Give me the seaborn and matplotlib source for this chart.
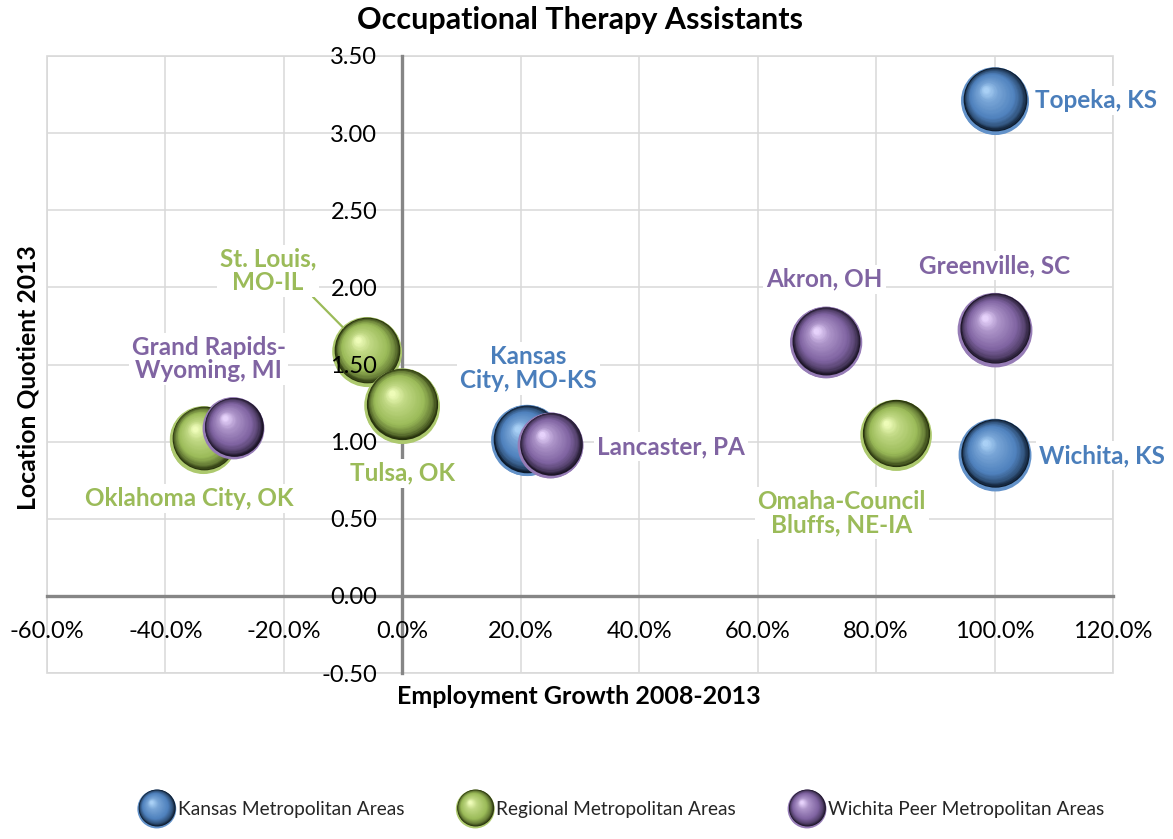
import numpy as np
import pandas as pd
import matplotlib
matplotlib.use("Agg")
import matplotlib.pyplot as plt
import seaborn as sns
from matplotlib.transforms import ScaledTranslation
from matplotlib.legend_handler import HandlerBase
from matplotlib.patches import Circle, Rectangle
from matplotlib.lines import Line2D
from matplotlib.colors import to_rgb
from matplotlib.ticker import FuncFormatter, MultipleLocator

# ---------------- data ----------------
groups = ["Kansas Metropolitan Areas", "Regional Metropolitan Areas",
          "Wichita Peer Metropolitan Areas"]

kansas_names = ["Topeka, KS", "Wichita, KS", "Kansas\nCity, MO-KS"]
kansas_growth = [1.00, 1.00, 0.21]
kansas_lq = [3.21, 0.915, 1.008]
kansas_size = [80, 92, 90]

regional_names = ["St. Louis,\nMO-IL", "Tulsa, OK", "Oklahoma City, OK",
                  "Omaha-Council\nBluffs, NE-IA"]
regional_growth = [-0.06, -0.001, -0.336, 0.833]
regional_lq = [1.584, 1.233, 1.013, 1.042]
regional_size = [85, 100, 80, 89]

peer_names = ["Grand Rapids-\nWyoming, MI", "Lancaster, PA", "Akron, OH",
              "Greenville, SC"]
peer_growth = [-0.286, 0.25, 0.715, 1.00]
peer_lq = [1.088, 0.976, 1.643, 1.725]
peer_size = [68, 77, 91, 97]

x_ticks_range = (-0.6, 1.2, 0.2)
y_ticks_range = (-0.5, 3.5, 0.5)

# ---------------- styling ----------------
palette = {
    groups[0]: dict(dark="#0c1a2b", mid="#4f81bd", light="#a9d0f5", label="#4a7ebb"),
    groups[1]: dict(dark="#28330d", mid="#9bbb59", light="#eefcb8", label="#9bbb59"),
    groups[2]: dict(dark="#1e1629", mid="#8064a2", light="#e6d2fb", label="#8064a2"),
}

# label offsets in points (dx, dy) and horizontal alignment
label_layout = {
    "Topeka, KS": (28.8, 0.0, "left"),
    "Wichita, KS": (32.0, -0.5, "left"),
    "Kansas\nCity, MO-KS": (1.4, 51.8, "center"),
    "St. Louis,\nMO-IL": (-71.3, 58.1, "center"),
    "Tulsa, OK": (0.4, -48.6, "center"),
    "Oklahoma City, OK": (-10.1, -42.2, "center"),
    "Omaha-Council\nBluffs, NE-IA": (-38.9, -56.2, "center"),
    "Grand Rapids-\nWyoming, MI": (-17.6, 49.7, "center"),
    "Lancaster, PA": (33.8, -0.9, "left"),
    "Akron, OH": (-0.9, 45.4, "center"),
    "Greenville, SC": (0.2, 46.1, "center"),
}

SMAX = 2916.0  # marker area (pt^2) for size value 100

df = pd.DataFrame({
    "name": kansas_names + regional_names + peer_names,
    "growth": kansas_growth + regional_growth + peer_growth,
    "lq": kansas_lq + regional_lq + peer_lq,
    "size": kansas_size + regional_size + peer_size,
    "group": [groups[0]] * len(kansas_names) + [groups[1]] * len(regional_names)
             + [groups[2]] * len(peer_names),
})

sns.set_theme(style="white")
plt.rcParams["font.family"] = ["Lato", "DejaVu Sans"]
plt.rcParams["axes.unicode_minus"] = False

W, H = 1173, 839
fig = plt.figure(figsize=(W / 100, H / 100), dpi=100)
ax = fig.add_axes([47 / W, 1 - 673 / H, (1113 - 47) / W, (673 - 56) / H])


def mix(c1, c2, t):
    a, b = np.array(to_rgb(c1)), np.array(to_rgb(c2))
    return tuple(a + (b - a) * t)


def shade(group, t):
    p = palette[group]
    stops = [(0.0, p["dark"]), (0.12, mix(p["dark"], p["mid"], 0.55)),
             (0.32, p["mid"]), (0.75, mix(p["mid"], p["light"], 0.45)),
             (1.0, p["light"])]
    for (t0, c0), (t1, c1) in zip(stops[:-1], stops[1:]):
        if t <= t1:
            return mix(c0, c1, (t - t0) / (t1 - t0))
    return to_rgb(p["light"])


N_LAYERS = 32


def layers():
    out = []
    for k in range(N_LAYERS):
        t = k / (N_LAYERS - 1)
        out.append((t, 0.95 - 0.87 * t, 0.02 - 0.28 * t, 0.05 + 0.28 * t))
    return out


# base bubbles through seaborn (light bottom rim colour)
rim_pal = {g: mix(palette[g]["mid"], palette[g]["light"], 0.22) for g in groups}
sns.scatterplot(data=df, x="growth", y="lq", hue="group", size="size",
                sizes=(0, SMAX), size_norm=(0, 100), palette=rim_pal,
                hue_order=groups, legend=False, linewidth=0, ax=ax, zorder=3)

# 3D shading layers
for i, row in df.iterrows():
    R = np.sqrt(SMAX * row["size"] / 100) / 2.0
    z0 = 4 + i
    ax.scatter([row["growth"]], [row["lq"]], s=(2 * R) ** 2,
               color=rim_pal[row["group"]], linewidths=0, zorder=z0)
    for (t, f, ox, oy) in layers():
        tr = ax.transData + ScaledTranslation(ox * R / 72, oy * R / 72,
                                              fig.dpi_scale_trans)
        ax.scatter([row["growth"]], [row["lq"]], s=(2 * f * R) ** 2,
                   color=shade(row["group"], t), linewidths=0,
                   transform=tr, zorder=z0 + 0.01 + t * 0.5)

# data labels
for i, row in df.iterrows():
    dx, dy, ha = label_layout[row["name"]]
    col = palette[row["group"]]["label"]
    kw = {}
    if row["name"].startswith("St. Louis"):
        R = np.sqrt(SMAX * row["size"] / 100) / 2.0
        kw["arrowprops"] = dict(arrowstyle="-", color=col, lw=1.6,
                                shrinkA=0, shrinkB=R * 0.98,
                                relpos=(0.93, 0.02))
    ax.annotate(row["name"], xy=(row["growth"], row["lq"]),
                xytext=(dx, dy), textcoords="offset points",
                ha=ha, va="center", multialignment="center",
                fontsize=17.5, fontweight="bold", color=col, linespacing=1.02,
                bbox=dict(boxstyle="square,pad=0.12", fc="white", ec="none"),
                zorder=40, **kw)

# axes limits / ticks
ax.set_xlim(x_ticks_range[0], x_ticks_range[1])
ax.set_ylim(y_ticks_range[0], y_ticks_range[1])
ax.xaxis.set_major_locator(MultipleLocator(x_ticks_range[2]))
ax.yaxis.set_major_locator(MultipleLocator(y_ticks_range[2]))
ax.xaxis.set_major_formatter(FuncFormatter(lambda v, p: f"{v * 100:.1f}%"))
ax.yaxis.set_major_formatter(FuncFormatter(lambda v, p: f"{v:.2f}"))
ax.grid(False)

for xv in ax.get_xticks():
    if x_ticks_range[0] - 1e-9 <= xv <= x_ticks_range[1] + 1e-9:
        ax.axvline(xv, color="#d9d9d9", lw=1.1, zorder=0.5)
for yv in ax.get_yticks():
    if y_ticks_range[0] - 1e-9 <= yv <= y_ticks_range[1] + 1e-9:
        ax.axhline(yv, color="#d9d9d9", lw=1.1, zorder=0.5)
ax.add_patch(Rectangle((0, 0), 1, 1, transform=ax.transAxes, fill=False,
                       ec="#d9d9d9", lw=1.2, zorder=0.6, clip_on=False))

for side in ("top", "right"):
    ax.spines[side].set_visible(False)
ax.spines["left"].set_position(("data", 0))
ax.spines["bottom"].set_position(("data", 0))
for side in ("left", "bottom"):
    ax.spines[side].set_color("#868686")
    ax.spines[side].set_linewidth(2.4)
    ax.spines[side].set_zorder(1.5)

ax.tick_params(axis="both", which="major", direction="out", length=6,
               width=2.0, color="#868686", labelsize=17, labelcolor="black")
ax.tick_params(axis="x", pad=12)
ax.tick_params(axis="y", pad=12)
ax.xaxis.set_zorder(30)
ax.yaxis.set_zorder(30)
ax.set_xlabel("")
ax.set_ylabel("")

# titles
fig.text(580 / W, 1 - 20 / H, "Occupational Therapy Assistants", ha="center",
         va="center", fontsize=22, fontweight="bold", color="black")
fig.text(579 / W, 1 - 697 / H, "Employment Growth 2008-2013", ha="center",
         va="center", fontsize=18, fontweight="bold", color="black")
fig.text(28 / W, 1 - 378 / H, "Location Quotient 2013", ha="center",
         va="center", rotation=90, fontsize=17.8, fontweight="bold",
         color="black")


# legend with shaded spheres
class SphereHandler(HandlerBase):
    def __init__(self, group, R=14.0):
        super().__init__()
        self.group = group
        self.R = R

    def create_artists(self, legend, orig_handle, xdescent, ydescent,
                       width, height, fontsize, trans):
        cx = width / 2 - xdescent
        cy = height / 2 - ydescent
        R = self.R
        arts = [Circle((cx, cy), R, fc=rim_pal[self.group], ec="none",
                       transform=trans)]
        for (t, f, ox, oy) in layers():
            arts.append(Circle((cx + ox * R, cy + oy * R), f * R,
                               fc=shade(self.group, t), ec="none",
                               transform=trans))
        return arts


handles = [Line2D([], [], color=palette[g]["mid"], label=g) for g in groups]
fig.legend(handles=handles, labels=groups, loc="center",
           bbox_to_anchor=(621 / W, 1 - 809 / H), ncol=3, frameon=False,
           fontsize=13.8, handlelength=2.0, handleheight=1.6,
           handletextpad=0.1, columnspacing=2.7,
           handler_map={h: SphereHandler(g) for h, g in zip(handles, groups)})

fig.savefig("out.png", dpi=100, facecolor="white")
